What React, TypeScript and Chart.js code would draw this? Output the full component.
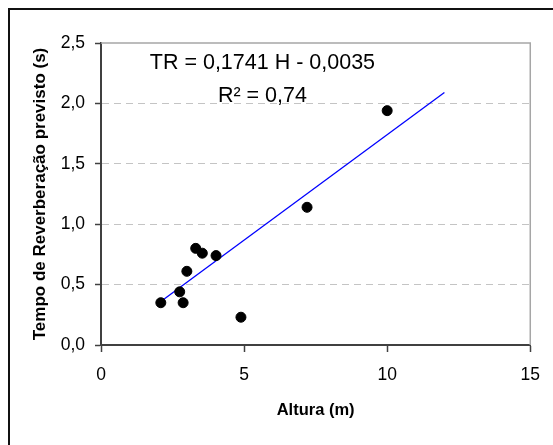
import React, { useEffect, useRef } from "react";
import { Chart, registerables } from "chart.js";

Chart.register(...registerables);

// Measured data (height in m, predicted reverberation time in s)
const heights = [2.09, 2.75, 2.87, 3.0, 3.31, 3.54, 4.02, 4.89, 7.2, 10.0];
const reverbTimes = [0.35, 0.44, 0.35, 0.61, 0.8, 0.76, 0.74, 0.23, 1.14, 1.94];

// Linear trend line end points
const trendX = [2.09, 12.0];
const trendY = [0.36, 2.09];

// Axis ranges / ticks
const xMin = 0;
const xMax = 15;
const xStep = 5;
const yMin = 0;
const yMax = 2.5;
const yStep = 0.5;

// Texts
const xTitle = "Altura (m)";
const yTitle = "Tempo de Reverberação previsto (s)";
const equationLines = ["TR = 0,1741 H - 0,0035", "R² = 0,74"];
const equationAnchorX = 5.64;
const equationAnchorY = [2.285, 2.01];

const FONT = "'Liberation Sans', Arial, sans-serif";

const frameAndEquation = {
  id: "frameAndEquation",
  beforeDatasetsDraw(chart: any) {
    const { ctx, chartArea } = chart;
    ctx.save();
    ctx.strokeStyle = "#a6a6a6";
    ctx.lineWidth = 1.5;
    ctx.beginPath();
    ctx.moveTo(chartArea.left, chartArea.top);
    ctx.lineTo(chartArea.right, chartArea.top);
    ctx.lineTo(chartArea.right, chartArea.bottom);
    ctx.stroke();
    ctx.restore();
  },
  afterDraw(chart: any) {
    const { ctx, scales } = chart;
    ctx.save();
    ctx.fillStyle = "#000";
    ctx.font = `21.5px ${FONT}`;
    ctx.textAlign = "center";
    ctx.textBaseline = "alphabetic";
    const px = scales.x.getPixelForValue(equationAnchorX);
    equationLines.forEach((t, i) => {
      ctx.fillText(t, px, scales.y.getPixelForValue(equationAnchorY[i]));
    });
    ctx.restore();
  },
};

export default function App() {
  const ref = useRef<HTMLCanvasElement | null>(null);

  useEffect(() => {
    if (!ref.current) return;
    const chart = new Chart(ref.current, {
      type: "scatter",
      data: {
        datasets: [
          {
            type: "scatter",
            data: heights.map((h, i) => ({ x: h, y: reverbTimes[i] })),
            backgroundColor: "#000",
            borderColor: "#000",
            pointRadius: 5,
            pointHoverRadius: 5,
            order: 0,
          },
          {
            type: "line",
            data: trendX.map((x, i) => ({ x, y: trendY[i] })),
            borderColor: "#0000ff",
            borderWidth: 1.3,
            pointRadius: 0,
            showLine: true,
            fill: false,
            order: 1,
          } as any,
        ],
      },
      options: {
        animation: false,
        responsive: false,
        maintainAspectRatio: false,
        layout: { padding: { left: 0, top: 33, right: 21, bottom: 0 } },
        plugins: {
          legend: { display: false },
          tooltip: { enabled: false },
        },
        scales: {
          x: {
            type: "linear",
            min: xMin,
            max: xMax,
            afterFit: (s: any) => {
              s.height = 100;
            },
            ticks: {
              stepSize: xStep,
              color: "#000",
              font: { family: FONT, size: 17.5 },
              padding: 13,
              maxRotation: 0,
            },
            grid: {
              drawOnChartArea: false,
              drawTicks: true,
              tickLength: 7,
              tickColor: "#404040",
              tickWidth: 1.5,
            },
            border: { color: "#404040", width: 2 },
            title: {
              display: true,
              text: xTitle,
              color: "#000",
              font: { family: FONT, size: 16.5, weight: "bold" },
              padding: { top: 0, bottom: 25 },
            },
          },
          y: {
            type: "linear",
            min: yMin,
            max: yMax,
            afterFit: (s: any) => {
              s.width = 91;
            },
            ticks: {
              stepSize: yStep,
              color: "#000",
              font: { family: FONT, size: 17.5 },
              padding: 10,
              callback: (v: any) => Number(v).toFixed(1).replace(".", ","),
            },
            grid: {
              drawOnChartArea: true,
              drawTicks: true,
              tickLength: 6,
              tickColor: "#404040",
              tickWidth: 1.5,
              lineWidth: 1,
              color: (c: any) =>
                c.tick && c.tick.value > yMin && c.tick.value < yMax
                  ? "#c4c4c4"
                  : "rgba(0,0,0,0)",
            },
            border: { color: "#404040", width: 2, dash: [7, 5] },
            title: {
              display: true,
              text: yTitle,
              color: "#000",
              font: { family: FONT, size: 17, weight: "bold" },
              padding: { top: 20, bottom: 0 },
            },
          },
        },
      },
      plugins: [frameAndEquation],
    });
    return () => chart.destroy();
  }, []);

  return (
    <div
      style={{
        position: "fixed",
        left: 8,
        top: 8,
        width: 545,
        height: 437,
        borderLeft: "2px solid #111",
        borderTop: "2px solid #111",
        background: "#fff",
        boxSizing: "border-box",
      }}
    >
      <canvas ref={ref} width={543} height={435} style={{ display: "block" }} />
    </div>
  );
}
